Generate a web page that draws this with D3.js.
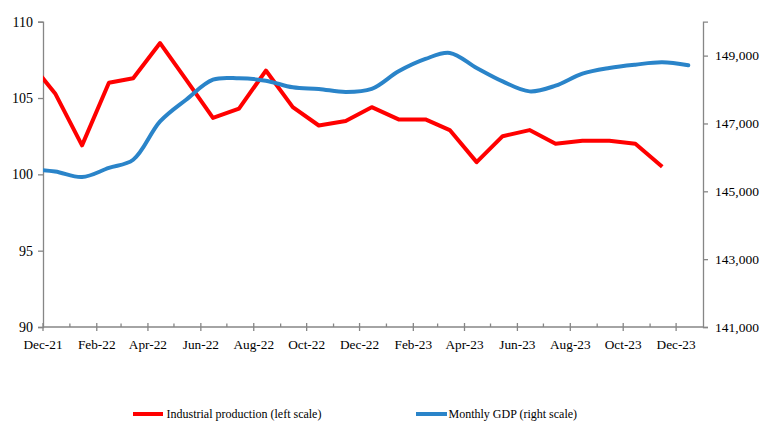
<!DOCTYPE html>
<html><head><meta charset="utf-8">
<script src="https://cdn.jsdelivr.net/npm/d3@7"></script>
<style>
body{margin:0;background:#fff;}
svg text{font-family:"Times New Roman","Liberation Serif",Tinos,Times,serif;fill:#000;}
</style></head>
<body><svg id="c" width="762" height="421"></svg>
<script>
// Data (monthly, plotted mid-month)
const months = ["Nov-21","Dec-21","Jan-22","Feb-22","Mar-22","Apr-22","May-22","Jun-22","Jul-22","Aug-22","Sep-22","Oct-22","Nov-22","Dec-22","Jan-23","Feb-23","Mar-23","Apr-23","May-23","Jun-23","Jul-23","Aug-23","Sep-23","Oct-23","Nov-23","Dec-23"];
const industrial = [107.4,105.3,101.9,106.0,106.3,108.6,106.2,103.7,104.3,106.8,104.4,103.2,103.5,104.4,103.6,103.6,102.9,100.8,102.5,102.9,102.0,102.2,102.2,102.0,100.5,null];
const gdp = [145650,145585,145420,145690,145930,147060,147700,148290,148330,148262,148065,148017,147928,148017,148537,148902,149080,148637,148240,147946,148114,148469,148637,148734,148802,148714];
const leftTicks = [90,95,100,105,110];
const rightTicks = [141000,143000,145000,147000,149000];
const xTickLabels = ["Dec-21","Feb-22","Apr-22","Jun-22","Aug-22","Oct-22","Dec-22","Feb-23","Apr-23","Jun-23","Aug-23","Oct-23","Dec-23"];
const seriesNames = ["Industrial production (left scale)","Monthly GDP (right scale)"];
const colors = ["#ff0000","#2a84c9"];

const parseM = d3.timeParse("%b-%y");
const mid = s => { const d = parseM(s); return new Date(d.getFullYear(), d.getMonth(), 15); };

const svg = d3.select("#c");
const L = 43, R = 703, T = 21.7, B = 327;
const x = d3.scaleTime().domain([new Date(2021,11,1), new Date(2024,0,1)]).range([L,R]);
const yL = d3.scaleLinear().domain([90,110]).range([B,T]);
const yR = d3.scaleLinear().domain([141000,150000]).range([B,T]);
const axisColor = "#868686";
const FONT = '"Times New Roman","Liberation Serif",Tinos,Times,serif';

svg.append("defs").append("clipPath").attr("id","clip")
  .append("rect").attr("x",L).attr("y",0).attr("width",R-L).attr("height",B);

// left axis
const gL = svg.append("g").attr("transform",`translate(${L},0)`)
  .call(d3.axisLeft(yL).tickValues(leftTicks).tickSize(5).tickPadding(5));
gL.attr("font-family",null);
gL.select(".domain").attr("stroke",axisColor).attr("stroke-width",1.3);
gL.selectAll(".tick line").attr("stroke",axisColor).attr("stroke-width",1.3);
gL.selectAll("text").attr("font-size",14).style("font-family",FONT);

// right axis
const gR = svg.append("g").attr("transform",`translate(${R},0)`)
  .call(d3.axisRight(yR).tickValues(rightTicks).tickSize(5).tickPadding(7).tickFormat(d3.format(",")));
gR.attr("font-family",null);
gR.select(".domain").attr("stroke",axisColor).attr("stroke-width",1.3);
gR.selectAll(".tick line").attr("stroke",axisColor).attr("stroke-width",1.3);
gR.selectAll("text").attr("font-size",13.5).style("font-family",FONT);

// x axis: minor monthly ticks, major every 2 months
const allMonths = d3.timeMonth.range(new Date(2021,11,1), new Date(2024,0,1));
const gX = svg.append("g").attr("transform",`translate(0,${B})`);
gX.append("line").attr("x1",L).attr("x2",R).attr("stroke",axisColor).attr("stroke-width",1.3);
const majorDates = xTickLabels.map(parseM);
gX.selectAll(".minor").data(allMonths.filter((d,i)=>i%2===1)).join("line")
  .attr("x1",d=>x(d)).attr("x2",d=>x(d)).attr("y1",-3.5).attr("y2",0)
  .attr("stroke",axisColor).attr("stroke-width",1.3);
gX.selectAll(".major").data(majorDates).join("line")
  .attr("x1",d=>x(d)).attr("x2",d=>x(d)).attr("y1",-4).attr("y2",4)
  .attr("stroke",axisColor).attr("stroke-width",1.3);
gX.selectAll("text").data(xTickLabels).join("text")
  .attr("x",d=>x(parseM(d))).attr("y",22).attr("text-anchor","middle")
  .attr("font-size",13.3).style("font-family",FONT).text(d=>d);

// lines
const plot = svg.append("g").attr("clip-path","url(#clip)");
const redLine = d3.line().defined(d=>d[1]!=null).x(d=>x(mid(d[0]))).y(d=>yL(d[1]));
plot.append("path").datum(months.map((m,i)=>[m,industrial[i]]))
  .attr("d",redLine).attr("fill","none").attr("stroke",colors[0]).attr("stroke-width",4).attr("stroke-linejoin","round");
const blueLine = d3.line().curve(d3.curveCatmullRom.alpha(0.5)).x(d=>x(mid(d[0]))).y(d=>yR(d[1]));
plot.append("path").datum(months.map((m,i)=>[m,gdp[i]]))
  .attr("d",blueLine).attr("fill","none").attr("stroke",colors[1]).attr("stroke-width",4).attr("stroke-linecap","round");

// legend
const leg = [{x0:133,x1:163,tx:166.5},{x0:416,x1:447,tx:448.5}];
leg.forEach((p,i)=>{
  svg.append("line").attr("x1",p.x0).attr("x2",p.x1).attr("y1",414).attr("y2",414)
    .attr("stroke",colors[i]).attr("stroke-width",4);
  svg.append("text").attr("x",p.tx).attr("y",418).attr("font-size",12).style("font-family",FONT).text(seriesNames[i]);
});
</script></body></html>
